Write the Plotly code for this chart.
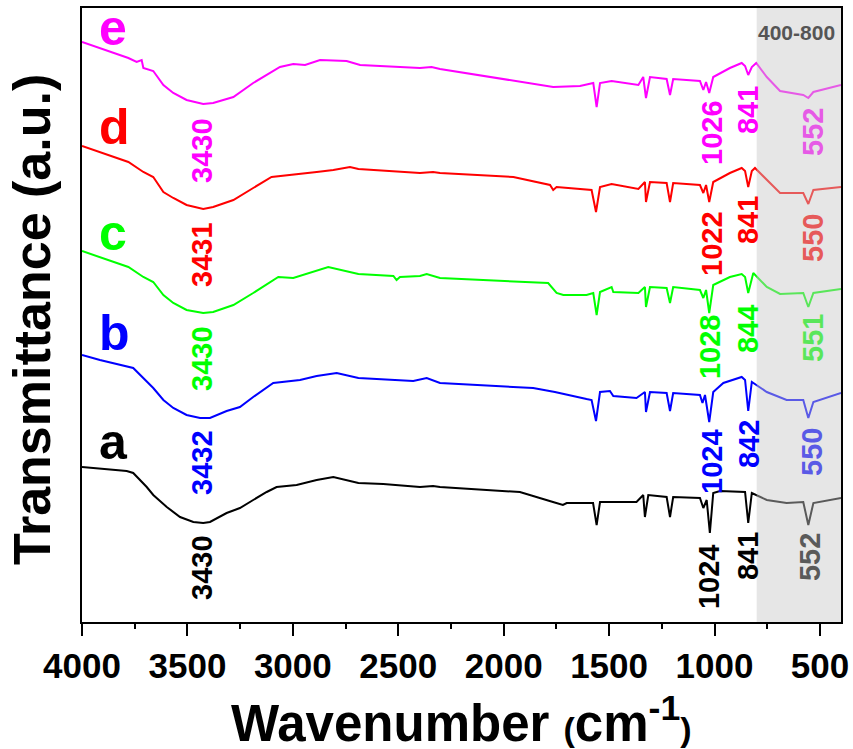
import plotly.graph_objects as go

# ---------------- data (wavenumber cm^-1, transmittance a.u. with offsets) ----------------
wn_a = [4000, 3788, 3757, 3693, 3662, 3622, 3598, 3535, 3472, 3425, 3393, 3314, 3251, 3188, 3124, 3077,
        2982, 2887, 2808, 2689, 2571, 2397, 2335, 2302, 1923, 1766, 1719, 1701, 1576, 1559, 1543, 1370,
        1338, 1330, 1314, 1227, 1211, 1196, 1069, 1053, 1037, 1022, 1006, 974, 855, 840, 823, 752, 658,
        579, 555, 531, 400]
t_a = [155, 151, 149, 135, 127, 120, 115, 105, 100, 99, 100, 109, 114, 122, 130, 135,
       137, 142, 145, 139, 138, 135, 136, 135, 130, 120, 117, 119, 119, 97, 120, 120,
       127, 105, 127, 125, 105, 125, 124, 114, 122, 89, 129, 131, 130, 99, 129, 122, 119,
       120, 97, 119, 124]

wn_b = [4000, 3915, 3757, 3693, 3662, 3614, 3567, 3504, 3440, 3393, 3314, 3251, 3188, 3093, 2966, 2887,
        2792, 2689, 2429, 2365, 2302, 1860, 1757, 1607, 1583, 1562, 1543, 1496, 1480, 1370, 1330, 1325,
        1306, 1227, 1211, 1196, 1069, 1057, 1045, 1025, 1006, 958, 911, 871, 855, 840, 823, 752, 658,
        579, 555, 531, 400]
t_b = [267, 262, 254, 240, 234, 222, 214, 207, 204, 204, 211, 215, 225, 239, 242, 246,
       249, 244, 241, 244, 239, 234, 230, 223, 222, 201, 230, 231, 226, 224, 230, 210,
       230, 229, 211, 229, 227, 219, 227, 200, 230, 239, 242, 245, 242, 211, 240, 230, 222,
       222, 204, 220, 229]

wn_c = [4000, 3780, 3709, 3662, 3614, 3567, 3504, 3425, 3378, 3282, 3188, 3069, 2998, 2832, 2689, 2523,
        2508, 2492, 2397, 2365, 2302, 1789, 1749, 1717, 1607, 1575, 1559, 1543, 1488, 1480, 1361, 1330,
        1325, 1306, 1227, 1211, 1196, 1069, 1053, 1040, 1025, 1006, 927, 871, 855, 840, 816, 752, 689,
        579, 555, 531, 400]
t_c = [371, 355, 345, 340, 327, 319, 312, 309, 310, 317, 329, 345, 344, 355, 348, 346,
       342, 345, 346, 348, 344, 339, 329, 327, 327, 329, 307, 330, 335, 330, 329, 335,
       315, 335, 334, 319, 335, 332, 324, 332, 309, 337, 345, 348, 345, 329, 349, 335, 328,
       329, 315, 329, 333]

wn_d = [4000, 3780, 3709, 3662, 3614, 3567, 3504, 3425, 3378, 3282, 3188, 3101, 2887, 2808, 2729, 2689,
        2397, 2335, 2302, 1954, 1780, 1765, 1749, 1583, 1562, 1543, 1488, 1361, 1330, 1325, 1306, 1227,
        1211, 1196, 1069, 1053, 1040, 1025, 1006, 927, 871, 855, 840, 823, 808, 752, 689, 579, 555,
        531, 400]
t_d = [476, 460, 450, 445, 430, 424, 417, 413, 415, 422, 434, 445, 450, 452, 455, 453,
       449, 450, 449, 445, 437, 432, 435, 432, 410, 435, 438, 433, 440, 420, 440, 439,
       420, 439, 437, 429, 437, 420, 440, 449, 454, 451, 435, 451, 454, 442, 429, 429, 418,
       432, 435]

wn_e = [4000, 3780, 3741, 3717, 3709, 3662, 3614, 3567, 3504, 3425, 3378, 3282, 3188, 3061, 2998, 2942,
        2871, 2745, 2681, 2492, 2397, 2342, 2302, 1765, 1638, 1575, 1559, 1543, 1488, 1361, 1338, 1325,
        1306, 1227, 1211, 1196, 1069, 1053, 1040, 1025, 1006, 927, 871, 855, 840, 823, 802, 752, 689,
        579, 555, 531, 400]
t_e = [580, 564, 560, 562, 554, 551, 537, 529, 522, 518, 519, 525, 539, 555, 558, 557,
       562, 561, 557, 555, 554, 555, 553, 535, 536, 539, 515, 539, 541, 537, 545, 524,
       545, 543, 527, 543, 541, 532, 540, 529, 545, 554, 559, 556, 547, 555, 559, 545, 531,
       527, 524, 530, 537]

series_names = ["a", "b", "c", "d", "e"]
series_colors = ["#000000", "#0000ff", "#00ff00", "#ff0000", "#ff00ff"]
# colours of labels lying under the grey 400-800 band
shaded_colors = ["#5a5a5a", "#5a5ae6", "#5ae65a", "#e65a5a", "#e65ae6"]
series_wn = [wn_a, wn_b, wn_c, wn_d, wn_e]
series_t = [t_a, t_b, t_c, t_d, t_e]

# letter label positions (wavenumber, transmittance)
letter_x = [3928, 3928, 3928, 3928, 3928]
letter_y = [180, 289, 389, 495, 594]

# peak labels: text, wavenumber position, transmittance position for each series
peak_text = [["3430", "1024", "841", "552"],
             ["3432", "1024", "842", "550"],
             ["3430", "1028", "844", "551"],
             ["3431", "1022", "841", "550"],
             ["3430", "1026", "841", "552"]]
peak_x = [[3431, 1026, 841, 547],
          [3431, 1012, 836, 538],
          [3431, 1021, 841, 533],
          [3431, 1012, 841, 533],
          [3431, 1012, 841, 533]]
peak_y = [[55, 45, 66, 65],
          [160, 161, 178, 170],
          [264, 275, 293, 284],
          [368, 379, 402, 384],
          [472, 490, 512, 490]]

x_ticks = [4000, 3500, 3000, 2500, 2000, 1500, 1000, 500]
band = [800, 400]
band_label = "400-800"
x_title = "Wavenumber <span style='font-size:34px'>(</span>cm<sup>-1</sup><span style='font-size:34px'>)</span>"
y_title = "Transmittance (a.u.)"

FONT = "Liberation Sans, Arial, sans-serif"

fig = go.Figure()
for name, col, xs, ys in zip(series_names, series_colors, series_wn, series_t):
    fig.add_trace(go.Scatter(x=xs, y=ys, mode="lines", name=name,
                             line=dict(color=col, width=2), showlegend=False))

fig.add_shape(type="rect", xref="x", yref="paper", x0=band[0], x1=band[1], y0=0, y1=1,
              fillcolor="rgba(200,200,200,0.45)", line=dict(width=0), layer="above")

ann = []
for i, name in enumerate(series_names):
    ann.append(dict(x=letter_x[i], y=letter_y[i], xref="x", yref="y", text=name,
                    showarrow=False, xanchor="left", yanchor="middle",
                    font=dict(family=FONT, size=50, color=series_colors[i], weight="bold")))
    for txt, px, py in zip(peak_text[i], peak_x[i], peak_y[i]):
        c = shaded_colors[i] if px < band[0] else series_colors[i]
        ann.append(dict(x=px, y=py, xref="x", yref="y", text=txt, textangle=-90,
                        showarrow=False, xanchor="center", yanchor="middle",
                        font=dict(family=FONT, size=29, color=c, weight="bold")))
ann.append(dict(x=609, y=590, xref="x", yref="y", text=band_label, showarrow=False,
                xanchor="center", yanchor="middle",
                font=dict(family=FONT, size=21, color="#555555", weight="bold")))
# axis titles
ann.append(dict(x=0.5, y=0, xref="paper", yref="paper", text=x_title, showarrow=False,
                xanchor="center", yanchor="middle", yshift=-98,
                font=dict(family=FONT, size=51, color="black", weight="bold")))
ann.append(dict(x=0, y=0.5, xref="paper", yref="paper", text=y_title, showarrow=False,
                textangle=-90, xanchor="center", yanchor="middle", xshift=-50, yshift=-5,
                font=dict(family=FONT, size=52, color="black", weight="bold")))

fig.update_layout(
    width=853, height=749,
    margin=dict(l=82, r=12, t=8, b=127, autoexpand=False),
    paper_bgcolor="white", plot_bgcolor="white",
    annotations=ann,
    font=dict(family=FONT, color="black"),
)
fig.update_xaxes(range=[4000, 400], showgrid=False, zeroline=False, automargin=False,
                 showline=True, linecolor="black", linewidth=2, mirror=True,
                 ticks="outside", ticklen=12, tickwidth=2, tickcolor="black",
                 tickvals=x_ticks, ticktext=[str(v) for v in x_ticks],
                 tickfont=dict(family=FONT, size=35, color="black", weight="bold"),
                 minor=dict(ticks="outside", ticklen=5, tickwidth=2, tickcolor="black", dtick=250))
fig.update_yaxes(range=[0, 614], showgrid=False, zeroline=False, automargin=False,
                 showline=True, linecolor="black", linewidth=2, mirror=True,
                 ticks="", showticklabels=False)

fig.write_html("out.html", config={"displayModeBar": False},
               post_script="document.body.style.margin='0';")
